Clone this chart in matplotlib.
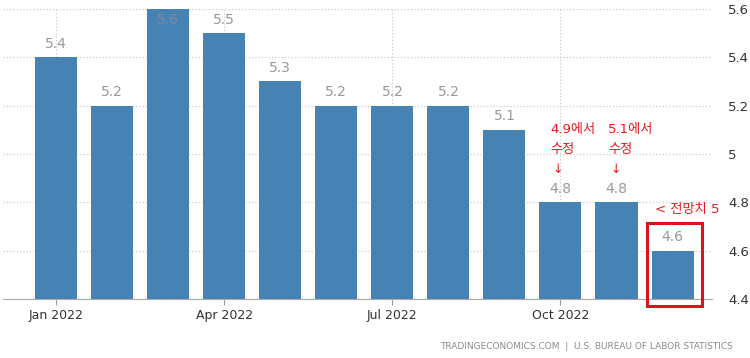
import matplotlib
matplotlib.use('Agg')
from matplotlib import pyplot as plt
from matplotlib.patches import Rectangle

plt.rcParams['font.family'] = ['DejaVu Sans', 'Noto Sans CJK KR']

months = ['Jan', 'Feb', 'Mar', 'Apr', 'May', 'Jun', 'Jul', 'Aug', 'Sep', 'Oct', 'Nov', 'Dec']
values = [5.4, 5.2, 5.6, 5.5, 5.3, 5.2, 5.2, 5.2, 5.1, 4.8, 4.8, 4.6]
tick_idx = [0, 3, 6, 9]
tick_labels = ['Jan 2022', 'Apr 2022', 'Jul 2022', 'Oct 2022']
y_ticks = [4.4, 4.6, 4.8, 5, 5.2, 5.4, 5.6]

bar_color = '#4682b4'
red = '#e8191c'

fig = plt.figure(figsize=(7.5, 3.58), dpi=100)
ax = fig.add_axes([0.004, 0.165, 0.945, 0.81])

x = list(range(len(values)))
ax.bar(x, values, width=0.75, color=bar_color, zorder=2)
ax.set_xlim(-0.95, 11.7)
ax.set_ylim(4.4, 5.6)

for xi, v in zip(x, values):
    if v >= 5.6:
        ax.text(xi, v - 0.045, f'{v}', ha='center', va='center', color='#7f8a99', fontsize=10, zorder=3)
    else:
        ax.text(xi, v + 0.055, f'{v}', ha='center', va='center', color='#999999', fontsize=10, zorder=3)

ax.yaxis.tick_right()
ax.set_yticks(y_ticks)
ax.set_yticklabels(['4.4', '4.6', '4.8', '5', '5.2', '5.4', '5.6'], fontsize=9.5, color='#333333')
ax.tick_params(axis='y', length=0, pad=12)
ax.set_xticks(tick_idx)
ax.set_xticklabels(tick_labels, fontsize=9, color='#333333')
ax.tick_params(axis='x', length=4, color='#999999', pad=3)

ax.grid(True, axis='both', linestyle=':', color='#cccccc', linewidth=0.9, zorder=0)
for s in ['top', 'left', 'right']:
    ax.spines[s].set_visible(False)
ax.spines['bottom'].set_color('#aaaaaa')

# annotations
ax.text(8.82, 5.1, '4.9에서', color=red, fontsize=9.5, va='center', ha='left')
ax.text(8.82, 5.02, '수정', color=red, fontsize=9.5, va='center', ha='left')
ax.text(8.95, 4.935, '↓', color=red, fontsize=9, va='center', ha='center')
ax.text(9.85, 5.1, '5.1에서', color=red, fontsize=9.5, va='center', ha='left')
ax.text(9.85, 5.02, '수정', color=red, fontsize=9.5, va='center', ha='left')
ax.text(9.98, 4.935, '↓', color=red, fontsize=9, va='center', ha='center')
ax.text(10.68, 4.77, '< 전망치 5', color=red, fontsize=9.5, va='center', ha='left')

ax.add_patch(Rectangle((10.54, 4.371), 0.98, 0.344, fill=False, edgecolor='#d9141a',
                       linewidth=2.2, clip_on=False, zorder=4))

fig.text(0.977, 0.033, 'TRADINGECONOMICS.COM  |  U.S. BUREAU OF LABOR STATISTICS',
         ha='right', va='center', fontsize=6.5, color='#8a8a8a')

plt.savefig('out.png', dpi=100)
